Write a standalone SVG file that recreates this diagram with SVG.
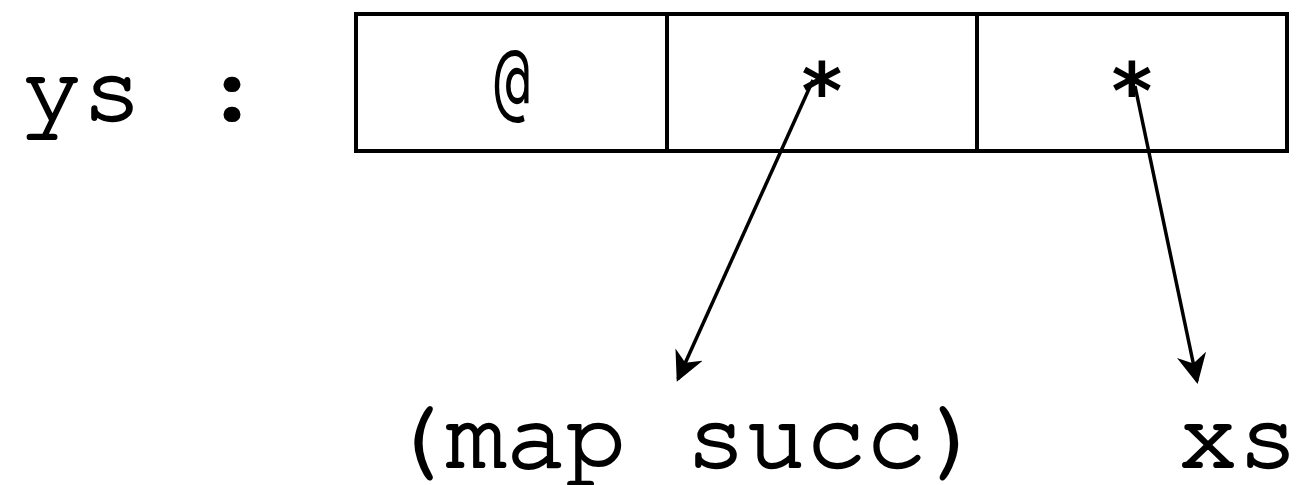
<svg xmlns="http://www.w3.org/2000/svg" width="1298" height="485" viewBox="0 0 1298 485">
<style>
.big{font-family:"Nimbus Mono PS","FreeMono","Courier New","Liberation Mono",monospace;font-size:100px;fill:#000;stroke:#000;stroke-width:2.2;stroke-linejoin:round}
.cell{font-family:"DejaVu Sans Mono",monospace;fill:#000;text-anchor:middle}
.at{font-size:60px}
.star{font-size:78px;font-weight:bold}
.box{fill:#fff;stroke:#000;stroke-width:4}
.conn{stroke:#000;stroke-width:3.5;fill:none;marker-end:url(#ah)}
</style>
<defs>
<marker id="ah" viewBox="0 0 10 10" refX="9" refY="5" markerWidth="8.5" markerHeight="8.5" markerUnits="strokeWidth" orient="auto">
<path d="M0,0 L10,5 L0,10 L3,5 Z" fill="#000"/>
</marker>
</defs>
<g id="label-ys"><text class="big" x="22" y="120">ys :</text></g>
<g id="record">
<rect class="box" x="356" y="14" width="931" height="137"/>
<line x1="667" y1="14" x2="667" y2="151" stroke="#000" stroke-width="4"/>
<line x1="977" y1="14" x2="977" y2="151" stroke="#000" stroke-width="4"/>
<text class="cell at" x="0" y="0" transform="translate(512,109) scale(1,1.45)">@</text>
<text class="cell star" x="822" y="119">*</text>
<text class="cell star" x="1132" y="119">*</text>
</g>
<g id="label-map"><text class="big" x="386" y="467">(map succ)</text></g>
<g id="label-xs"><text class="big" x="1178" y="467">xs</text></g>
<g id="connectors">
<line class="conn" x1="813" y1="80" x2="678" y2="379"/>
<line class="conn" x1="1135" y1="86" x2="1197" y2="381"/>
</g>
</svg>
